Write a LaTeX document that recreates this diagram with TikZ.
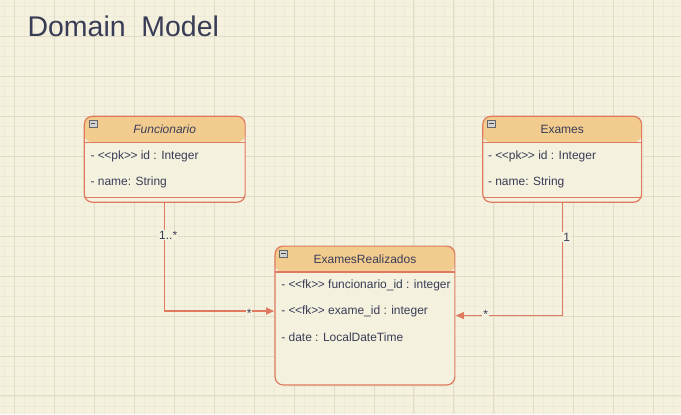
\documentclass[tikz,border=0pt]{standalone}
\usepackage{fontspec}
\setmainfont{Liberation Sans}
\usetikzlibrary{arrows.meta, positioning}
\definecolor{paper}{HTML}{F4F1DE}
\definecolor{hdr}{HTML}{F2CC8F}
\definecolor{edge}{HTML}{E07A5F}
\definecolor{ink}{HTML}{393C56}
\definecolor{minorgrid}{HTML}{EEEAD6}
\definecolor{majorgrid}{HTML}{E0DCC6}
\tikzstyle{link} = [edge, line width=1.1pt, -{Triangle[length=8pt,width=7pt]}]
\tikzstyle{classbox} = [draw=edge, line width=1.2pt, fill=paper, rounded corners=8pt, inner sep=0pt, outer sep=0pt,
  path picture={\fill[hdr] (path picture bounding box.north west) rectangle ([yshift=-26pt]path picture bounding box.north east);
    \draw[edge, line width=1.2pt] ([yshift=-26pt]path picture bounding box.north west) -- ([yshift=-26pt]path picture bounding box.north east);}]
\tikzstyle{footline} = [edge, line width=1.2pt]
\tikzstyle{minusbox} = [draw=gray!80!black, fill=gray!35, minimum width=8pt, minimum height=7pt, inner sep=0pt,
  path picture={\draw[black!70, line width=0.9pt] ([xshift=1.8pt]path picture bounding box.west) -- ([xshift=-1.8pt]path picture bounding box.east);}]

\begin{document}
\begin{tikzpicture}[x=1pt, y=-1pt, every node/.style={text=ink, font=\fontsize{12}{14}\selectfont},
  row/.style = {anchor=west, inner sep=0pt}, mult/.style = {fill=paper, inner sep=1pt}]
% background and grid
\fill[paper] (0,0) rectangle (681,414);
\foreach \gx in {4,14,...,674} \draw[minorgrid, line width=0.6pt] (\gx,0) -- (\gx,414);
\foreach \gy in {6,16,...,406} \draw[minorgrid, line width=0.6pt] (0,\gy) -- (681,\gy);
\foreach \gx in {14,54,...,654} \draw[majorgrid, line width=0.9pt] (\gx,0) -- (\gx,414);
\foreach \gy in {36,76,...,396} \draw[majorgrid, line width=0.9pt] (0,\gy) -- (681,\gy);
\useasboundingbox (0,0) rectangle (681,414);

\node[anchor=base west, inner sep=0pt, font=\fontsize{28.5}{30}\selectfont] (title) at (27,36) {Domain\ \ Model};

% Funcionario
\node[classbox, minimum width=161pt, minimum height=86pt] (fun) at (164.5,159) {};
\draw[footline] ([yshift=5pt]fun.south west) -- ([yshift=5pt]fun.south east);
\node[minusbox] (funmin) at (92.5,123.5) {};
\node (funtitle) at (164.5,129) {\itshape Funcionario};
\node[row] (funid) at (90,156) {- <\kern-.5pt<pk>\kern-.5pt> id : Integer};
\node[row] (funname) at (90,182) {- name: String};

% Exames
\node[classbox, minimum width=159pt, minimum height=86pt] (exa) at (562.5,159) {};
\draw[footline] ([yshift=5pt]exa.south west) -- ([yshift=5pt]exa.south east);
\node[minusbox] (examin) at (491.5,123.5) {};
\node (exatitle) at (562.5,129) {Exames};
\node[row] (exaid) at (488,156) {- <\kern-.5pt<pk>\kern-.5pt> id : Integer};
\node[row] (exaname) at (488,182) {- name: String};

% ExamesRealizados
\node[classbox, minimum width=180pt, minimum height=139pt] (exr) at (365,315.5) {};
\node[minusbox] (exrmin) at (283.5,253.5) {};
\node (exrtitle) at (365,259) {ExamesRealizados};
\node[row] (exrfun) at (281,285) {- <\kern-.5pt<fk>\kern-.5pt> funcionario\_id : integer};
\node[row] (exrexa) at (281,311) {- <\kern-.5pt<fk>\kern-.5pt> exame\_id : integer};
\node[row] (exrdate) at (281,337) {- date : LocalDateTime};

% connectors
\draw[link] (fun.south) |- ([yshift=4.5pt,xshift=-1pt]exr.west);
\draw[link] (exa.south) |- ([xshift=1pt]exr.east);
\node[mult] (funsrc) at (168,235) {1..*};
\node[mult] (fundst) at (249,313) {*};
\node[mult] (exasrc) at (567,237) {1};
\node[mult] (exadst) at (486,314) {*};
\end{tikzpicture}
\end{document}
